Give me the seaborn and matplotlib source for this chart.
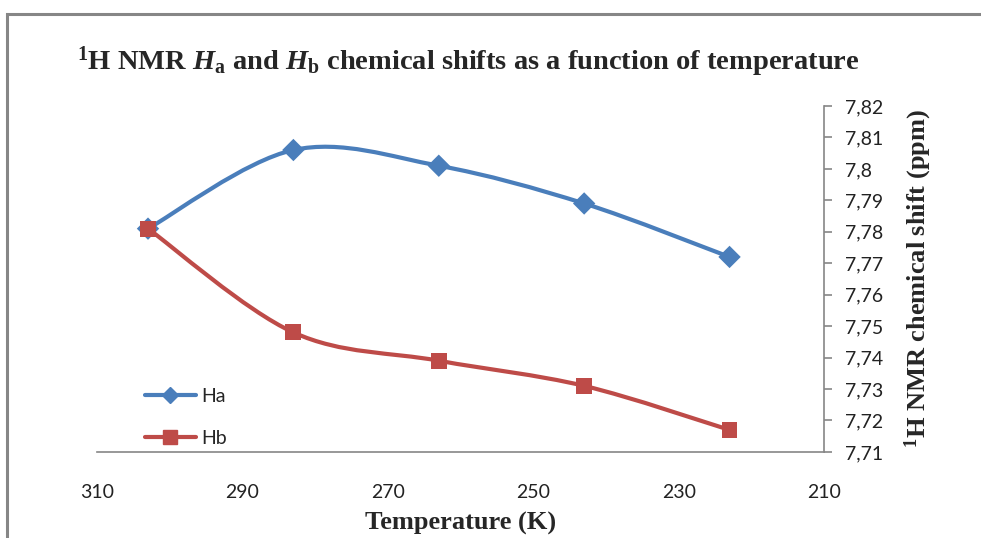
import matplotlib
matplotlib.use("Agg")
import matplotlib.pyplot as plt
import seaborn as sns
import pandas as pd
from matplotlib.path import Path
from matplotlib.patches import PathPatch, Rectangle
from matplotlib.lines import Line2D
from matplotlib.ticker import FuncFormatter, MultipleLocator, FixedLocator

# data
temperature = [303, 283, 263, 243, 223]
shift_ha = [7.781, 7.806, 7.801, 7.789, 7.772]
shift_hb = [7.781, 7.748, 7.739, 7.731, 7.717]
series_names = ["Ha", "Hb"]
series_colors = ["#4A7EBB", "#BE4B48"]
series_markers = ["D", "s"]
x_ticks = [310, 290, 270, 250, 230, 210]

sns.set_style("white")
plt.rcParams["font.family"] = ["Lato", "DejaVu Sans"]
plt.rcParams["mathtext.fontset"] = "custom"
plt.rcParams["mathtext.rm"] = "Liberation Serif:bold"
plt.rcParams["mathtext.it"] = "Liberation Serif:italic:bold"
plt.rcParams["mathtext.bf"] = "Liberation Serif:bold"

df = pd.DataFrame({
    "T": temperature * 2,
    "shift": shift_ha + shift_hb,
    "series": [series_names[0]] * len(temperature) + [series_names[1]] * len(temperature),
})

fig = plt.figure(figsize=(9.81, 5.38), dpi=100)
ax = fig.add_axes([0.099, 0.16, 0.741, 0.643])


def smooth_path(xs, ys):
    # Excel-style smoothed line: cubic bezier through the points
    pts = list(zip(xs, ys))
    n = len(pts)
    verts = [pts[0]]
    codes = [Path.MOVETO]
    for i in range(n - 1):
        p0 = pts[i - 1] if i > 0 else pts[i]
        p1 = pts[i]
        p2 = pts[i + 1]
        p3 = pts[i + 2] if i + 2 < n else pts[i + 1]
        c1 = (p1[0] + (p2[0] - p0[0]) / 6, p1[1] + (p2[1] - p0[1]) / 6)
        c2 = (p2[0] - (p3[0] - p1[0]) / 6, p2[1] - (p3[1] - p1[1]) / 6)
        verts += [c1, c2, p2]
        codes += [Path.CURVE4] * 3
    return Path(verts, codes)


for name, ys, col in zip(series_names, [shift_ha, shift_hb], series_colors):
    ax.add_patch(PathPatch(smooth_path(temperature, ys), fill=False,
                           edgecolor=col, lw=3.0, capstyle="round", zorder=2))

sns.scatterplot(data=df, x="T", y="shift", hue="series", style="series",
                palette=dict(zip(series_names, series_colors)),
                markers=dict(zip(series_names, series_markers)),
                s=130, edgecolor="none", legend=False, ax=ax, zorder=3)

ax.set_xlim(310, 210)
ax.set_ylim(7.71, 7.82)
ax.xaxis.set_major_locator(FixedLocator(x_ticks))
ax.yaxis.set_major_locator(MultipleLocator(0.01))
ax.yaxis.set_major_formatter(FuncFormatter(
    lambda v, _: f"{v:.2f}".rstrip("0").rstrip(".").replace(".", ",")))
ax.yaxis.tick_right()
ax.yaxis.set_label_position("right")

for side in ["left", "top"]:
    ax.spines[side].set_visible(False)
for side in ["right", "bottom"]:
    ax.spines[side].set_color("#868686")
    ax.spines[side].set_linewidth(1.2)
ax.tick_params(axis="both", which="major", direction="out", length=6,
               width=1.2, color="#868686", labelsize=14, labelcolor="#222222")
ax.tick_params(axis="x", pad=17)
ax.tick_params(axis="y", pad=9)

ax.set_xlabel("Temperature (K)", fontsize=19, fontweight="bold",
              family="Liberation Serif", labelpad=8)
ax.set_ylabel(r"$^{1}$H NMR chemical shift (ppm)", fontsize=19, fontweight="bold",
              family="Liberation Serif", labelpad=14)

fig.text(0.477, 0.885,
         r"$^{1}$H NMR $\mathit{H}_\mathrm{a}$ and $\mathit{H}_\mathrm{b}$ chemical shifts as a function of temperature",
         ha="center", va="center", fontsize=20.5, fontweight="bold", family="Liberation Serif")

handles = [Line2D([], [], color=c, marker=m, lw=3, markersize=10 if m == "s" else 8)
           for c, m in zip(series_colors, series_markers)]
ax.legend(handles, series_names, loc="lower left", bbox_to_anchor=(0.042, -0.035),
          frameon=False, fontsize=14, handlelength=2.6, labelspacing=1.25,
          handletextpad=0.3)

fig.patches.append(Rectangle((7 / 981, -0.05), 1.05, (538 - 13.5) / 538 + 0.05,
                             transform=fig.transFigure, fill=False,
                             edgecolor="#868686", lw=2.2))

fig.savefig("out.png", dpi=100)
